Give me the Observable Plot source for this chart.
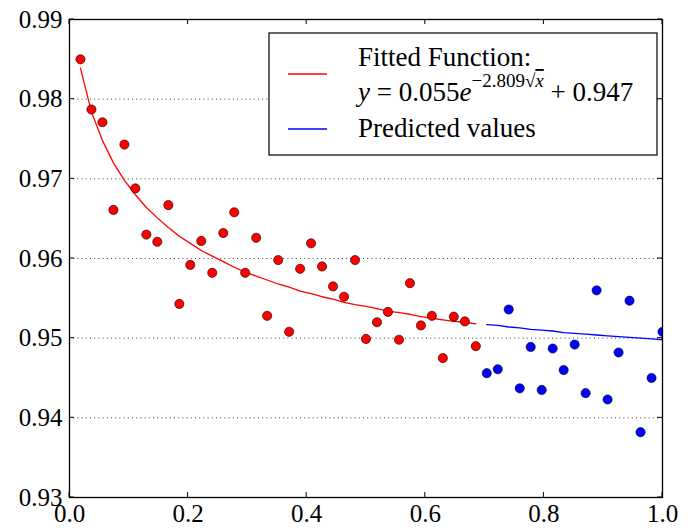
<!DOCTYPE html>
<html>
<head>
<meta charset="utf-8">
<script src="https://cdn.jsdelivr.net/npm/d3@7"></script>
<script src="https://cdn.jsdelivr.net/npm/@observablehq/plot@0.6"></script>
<style>
  body { margin: 0; background: #fff; }
</style>
</head>
<body>
<div id="chart"></div>
<script>
// Observed (fitting) data: x and y
const fitX = [0.0185, 0.0370, 0.0556, 0.0741, 0.0926, 0.1111, 0.1296, 0.1481, 0.1667, 0.1852,
  0.2037, 0.2222, 0.2407, 0.2593, 0.2778, 0.2963, 0.3148, 0.3333, 0.3519, 0.3704,
  0.3889, 0.4074, 0.4259, 0.4444, 0.4630, 0.4815, 0.5000, 0.5185, 0.5370, 0.5556,
  0.5741, 0.5926, 0.6111, 0.6296, 0.6481, 0.6667, 0.6852];
const fitObserved = [0.9850, 0.9787, 0.9771, 0.9661, 0.9743, 0.9688, 0.9630, 0.9621, 0.9667, 0.9543,
  0.9592, 0.9622, 0.9582, 0.9632, 0.9658, 0.9582, 0.9626, 0.9528, 0.9598, 0.9508,
  0.9587, 0.9619, 0.9590, 0.9565, 0.9552, 0.9598, 0.9499, 0.9520, 0.9533, 0.9498,
  0.9569, 0.9516, 0.9528, 0.9475, 0.9527, 0.9521, 0.9490];
const fitCurve = [0.9839, 0.9784, 0.9748, 0.9720, 0.9698, 0.9680, 0.9664, 0.9651, 0.9639, 0.9628,
  0.9619, 0.9610, 0.9603, 0.9596, 0.9589, 0.9583, 0.9578, 0.9573, 0.9568, 0.9564,
  0.9559, 0.9556, 0.9552, 0.9549, 0.9545, 0.9542, 0.9540, 0.9537, 0.9534, 0.9532,
  0.9530, 0.9527, 0.9525, 0.9523, 0.9521, 0.9520, 0.9518];

// Held-out data and predicted curve
const predX = [0.7037, 0.7222, 0.7407, 0.7593, 0.7778, 0.7963, 0.8148, 0.8333, 0.8519, 0.8704,
  0.8889, 0.9074, 0.9259, 0.9444, 0.9630, 0.9815, 1.0000];
const predObserved = [0.9456, 0.9461, 0.9536, 0.9437, 0.9489, 0.9435, 0.9487, 0.9460, 0.9492, 0.9431,
  0.9560, 0.9423, 0.9482, 0.9547, 0.9382, 0.9450, 0.9508];
const predCurve = [0.9517, 0.9516, 0.9514, 0.9513, 0.9511, 0.9510, 0.9509, 0.9507, 0.9506, 0.9505,
  0.9504, 0.9503, 0.9502, 0.9501, 0.9500, 0.9499, 0.9498];

// Tick labels
const xTicks = [0.0, 0.2, 0.4, 0.6, 0.8, 1.0];
const yTicks = [0.93, 0.94, 0.95, 0.96, 0.97, 0.98, 0.99];

(function () {
const fitRows = fitX.map((x, i) => ({x, obs: fitObserved[i], curve: fitCurve[i]}));
const predRows = predX.map((x, i) => ({x, obs: predObserved[i], curve: predCurve[i]}));

const FONT = "'Liberation Serif', 'DejaVu Serif', serif";

const plot = Plot.plot({
  width: 692,
  height: 530,
  marginLeft: 69,
  marginRight: 30,
  marginTop: 19,
  marginBottom: 33,
  style: {fontFamily: FONT, fontSize: "25px", background: "white", color: "black", overflow: "visible"},
  x: {domain: [0, 1], label: null},
  y: {domain: [0.93, 0.99], label: null},
  marks: [
    Plot.gridY(yTicks.slice(1, -1), {stroke: "black", strokeOpacity: 0.75, strokeDasharray: "1,3.2", strokeWidth: 1}),
    Plot.line(fitRows, {x: "x", y: "curve", stroke: "#ff0000", strokeWidth: 1.3}),
    Plot.line(predRows, {x: "x", y: "curve", stroke: "#0000ff", strokeWidth: 1.3}),
    Plot.dot(fitRows, {x: "x", y: "obs", r: 4.6, fill: "#ff0000", stroke: "black", strokeWidth: 0.6, clip: true}),
    Plot.dot(predRows, {x: "x", y: "obs", r: 4.6, fill: "#0000ff", stroke: "black", strokeWidth: 0.6, clip: true}),
    Plot.axisX(xTicks, {anchor: "bottom", tickSize: 0, tickPadding: 7, tickFormat: d3.format(".1f"), fontSize: 25, label: null}),
    Plot.axisY(yTicks, {anchor: "left", tickSize: 0, tickPadding: 7, tickFormat: d3.format(".2f"), fontSize: 25, label: null}),
    Plot.frame({stroke: "black", strokeWidth: 1.3})
  ]
});

document.getElementById("chart").appendChild(plot);

// Inward ticks on all four sides (matplotlib classic style), placed with the plot's scales
const sx = plot.scale("x"), sy = plot.scale("y");
const svg = d3.select(plot);
const x0 = sx.apply(0), x1 = sx.apply(1), yB = sy.apply(0.93), yT = sy.apply(0.99);
const tg = svg.append("g").attr("stroke", "black").attr("stroke-width", 1);
const L = 5;
for (const t of xTicks) {
  const px = sx.apply(t);
  tg.append("line").attr("x1", px).attr("x2", px).attr("y1", yB).attr("y2", yB - L);
  tg.append("line").attr("x1", px).attr("x2", px).attr("y1", yT).attr("y2", yT + L);
}
for (const t of yTicks) {
  const py = sy.apply(t);
  tg.append("line").attr("x1", x0).attr("x2", x0 + L).attr("y1", py).attr("y2", py);
  tg.append("line").attr("x1", x1).attr("x2", x1 - L).attr("y1", py).attr("y2", py);
}

// Legend
const lg = svg.append("g").attr("font-family", FONT).attr("font-size", 27).attr("fill", "black")
  .attr("text-anchor", "start");
lg.append("rect").attr("x", 269).attr("y", 33).attr("width", 388).attr("height", 122)
  .attr("fill", "white").attr("stroke", "black").attr("stroke-width", 1.2);
lg.append("line").attr("x1", 288).attr("x2", 327).attr("y1", 74).attr("y2", 74).attr("stroke", "#ff0000").attr("stroke-width", 1.3);
lg.append("line").attr("x1", 288).attr("x2", 327).attr("y1", 129).attr("y2", 129).attr("stroke", "#0000ff").attr("stroke-width", 1.3);
lg.append("text").attr("x", 358).attr("y", 66).attr("text-anchor", "start").text("Fitted Function:");
const eq = lg.append("text").attr("x", 358).attr("y", 101).attr("text-anchor", "start");
eq.append("tspan").attr("font-style", "italic").text("y");
eq.append("tspan").text(" = 0.055");
eq.append("tspan").attr("font-style", "italic").text("e");
eq.append("tspan").attr("font-size", 19).attr("dy", -14).text("−2.809√");
eq.append("tspan").attr("font-size", 19).attr("font-style", "italic").attr("text-decoration", "overline").text("x");
eq.append("tspan").attr("dy", 14).text(" + 0.947");
lg.append("text").attr("x", 358).attr("y", 137).attr("text-anchor", "start").text("Predicted values");
})();
</script>
</body>
</html>
